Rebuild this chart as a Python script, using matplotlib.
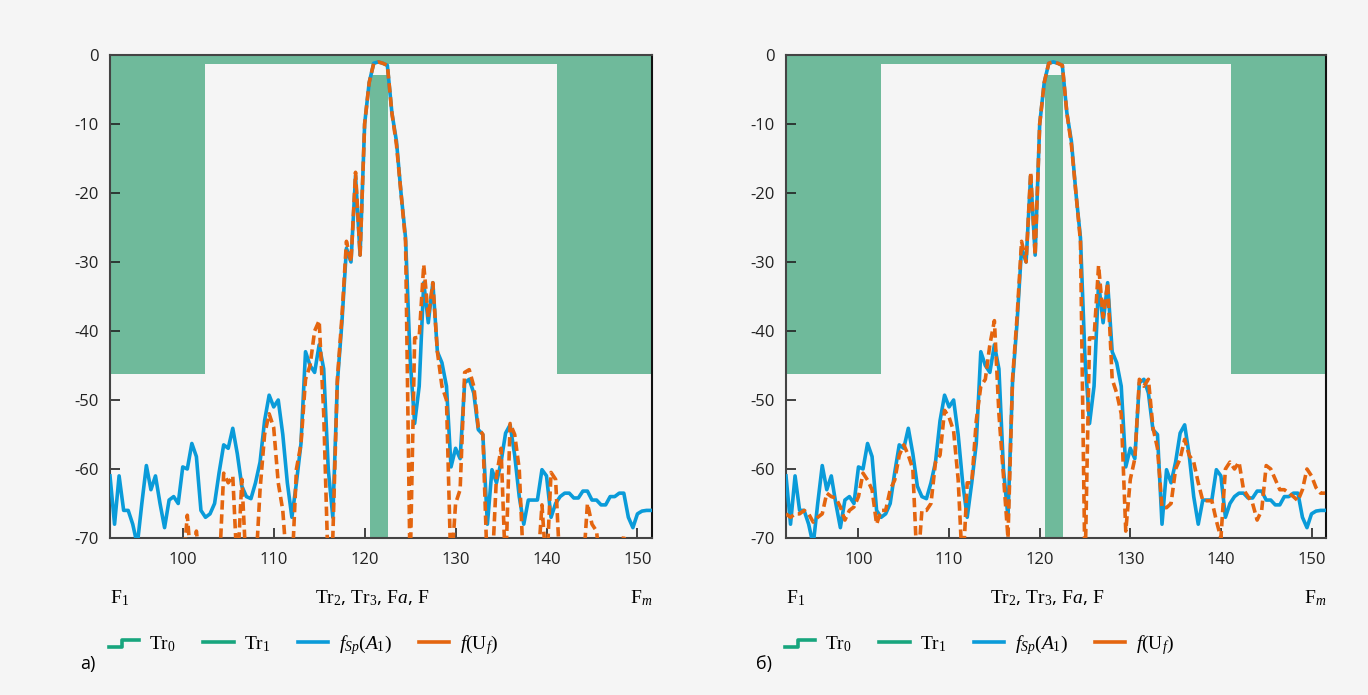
import numpy as np
import matplotlib
matplotlib.use('Agg')
import matplotlib.pyplot as plt
from matplotlib.lines import Line2D
from matplotlib.legend_handler import HandlerBase
from matplotlib import transforms

plt.rcParams['mathtext.fontset'] = 'custom'
plt.rcParams['mathtext.rm'] = 'Liberation Serif'
plt.rcParams['mathtext.it'] = 'Liberation Serif:italic'
plt.rcParams['font.family'] = ['Open Sans', 'DejaVu Sans']

# frequency grid (0.5 step) and curves
freq = np.arange(92.0, 151.6, 0.5)

f_sp = [-61, -68, -61, -66, -66, -68, -71, -65, -59.5, -63,
        -61, -65, -68.5, -64.5, -64, -65, -59.7, -60, -56.3, -58.2,
        -66, -67, -66.5, -65, -60.5, -56.5, -57, -54.1, -57.8, -62.5,
        -64, -64.3, -62, -59, -53, -49.3, -51, -50, -55, -62,
        -67, -62, -56.3, -43, -45, -46, -42, -45.5, -60, -67,
        -47.5, -38.8, -28, -30, -17.5, -29, -10, -4, -1.2, -1.0,
        -1.2, -1.5, -8.4, -12.5, -20, -26.5, -44, -53.4, -48, -33,
        -38.8, -33, -43, -44.6, -48, -59.7, -57, -58.5, -47.5, -47,
        -49, -54.3, -55, -68, -60.1, -62, -59, -54.8, -53.6, -58,
        -64, -68, -64.5, -64.5, -64.5, -60.1, -61, -67, -65, -64,
        -63.5, -63.5, -64.2, -64.2, -63.2, -63.2, -64.5, -64.5, -65.2, -65.2,
        -64, -64, -63.5, -63.5, -67, -68.5, -66.5, -66.1, -66, -66]

f_u_a = [-75, -75, -75, -75, -75, -75, -75, -75, -75, -75,
         -75, -75, -75, -75, -75, -75, -75, -66.7, -75, -69,
         -75, -75, -75, -75, -75, -60.6, -62, -61, -75, -61.5,
         -75, -75, -75, -63, -55, -52, -54, -62, -66, -75,
         -75, -60, -56.4, -47, -45, -40, -38.5, -52, -75, -70,
         -47, -38, -27, -30, -17, -29, -10, -4, -1.2, -1.0,
         -1.2, -1.5, -8.4, -13, -20, -27, -75, -41, -40.9, -30.4,
         -38, -33, -43, -48, -50, -75, -65, -63, -46, -45.6,
         -48, -54, -55, -75, -75, -61, -57, -75, -53.4, -55,
         -60, -75, -75, -75, -75, -65.2, -75, -60.5, -61.5, -75,
         -75, -75, -75, -75, -75, -65, -68, -69, -75, -75,
         -75, -75, -75, -69.5, -75, -75, -75, -75, -75, -75]

f_u_b = [-66.5, -67, -66.5, -66.5, -66, -66.5, -67.7, -67, -66.5, -63.5,
         -64, -64.2, -65.5, -67.4, -66, -65.5, -64, -60.6, -61.6, -63,
         -68, -66, -66, -63, -61.6, -58, -56.5, -58, -60, -75,
         -66, -66, -65, -59, -58, -51.5, -52.5, -54.5, -61.5, -75,
         -62, -62, -53, -48, -47, -42, -38.5, -52, -61, -70,
         -47, -38, -27, -30, -17, -29, -10, -4, -1.2, -1.0,
         -1.2, -1.5, -8.4, -13, -20, -27, -75, -41, -41, -30.5,
         -38, -33, -47, -49, -52, -69, -61.5, -58.5, -47, -48,
         -47, -54, -57, -65.6, -65.6, -65, -60, -58.5, -55.7, -58,
         -59, -62, -64.6, -64.6, -64.6, -67.5, -70, -60, -59, -60,
         -59, -63, -64, -65, -67.4, -66, -59.5, -60, -61.5, -63,
         -63, -63.5, -64, -64.6, -63, -60, -61, -62.7, -63.5, -63.5]

# Tr0 mask (step) and Tr1 band
tr0_x = [92.0, 102.5, 141.1, 151.6]
tr0_y = [-46.3, -1.3, -46.3, -46.3]
tr1_x = [120.6, 122.6]
tr1_y = -2.9

green = '#17a57d'
fill_green = '#6fba9b'
blue = '#0a9bd9'
orange = '#e4650f'
bg = '#f5f5f5'


class StepHandler(HandlerBase):
    def create_artists(self, legend, orig_handle, xdescent, ydescent,
                       width, height, fontsize, trans):
        x0 = -xdescent
        xs = [x0, x0 + width * 0.45, x0 + width * 0.45, x0 + width]
        ys = [height * 0.15, height * 0.15, height * 0.65, height * 0.65]
        line = Line2D(xs, ys, color=green, lw=2.6)
        line.set_transform(trans)
        return [line]


fig = plt.figure(figsize=(13.68, 6.95), dpi=100, facecolor=bg)
ax_a = fig.add_axes([110 / 1368, 1 - 538 / 695, 542 / 1368, 483 / 695])
ax_b = fig.add_axes([786 / 1368, 1 - 538 / 695, 540 / 1368, 483 / 695])

for ax, orange_vals, tag in [(ax_a, f_u_a, 'а)'), (ax_b, f_u_b, 'б)')]:
    ax.set_facecolor(bg)
    ax.fill_between(tr0_x, tr0_y, 0, step='post', color=fill_green, lw=0, zorder=1)
    ax.fill_between(tr1_x, -80, tr1_y, color=fill_green, lw=0, zorder=1)
    ax.plot(freq, f_sp, color=blue, lw=2.6, zorder=3)
    ax.plot(freq, orange_vals, color=orange, lw=2.6,
            linestyle=(0, (2.6, 1.3)), zorder=4)

    ax.set_xlim(92.0, 151.6)
    ax.set_ylim(-70, 0)
    ax.set_xticks([100, 110, 120, 130, 140, 150])
    ax.set_yticks([0, -10, -20, -30, -40, -50, -60, -70])
    ax.set_yticklabels(['0', '-10', '-20', '-30', '-40', '-50', '-60', '-70'])
    ax.tick_params(direction='in', length=7, width=1.2, labelsize=12, colors='#222')
    ax.tick_params(axis='x', pad=10)
    ax.tick_params(axis='y', pad=8)
    for s in ax.spines.values():
        s.set_color('#444')
        s.set_linewidth(1.5)
    ax.spines['right'].set_color('#111')

    tr = transforms.blended_transform_factory(ax.transData, ax.transAxes)
    ax.text(92.0, -0.125, r'$\mathrm{F}_1$', transform=tr, fontsize=14, ha='left', va='center')
    ax.text(120.8, -0.125, r'$\mathrm{Tr}_2$, $\mathrm{Tr}_3$, $\mathrm{F}a$, $\mathrm{F}$',
            transform=tr, fontsize=14, ha='center', va='center')
    ax.text(151.6, -0.125, r'$\mathrm{F}_m$', transform=tr, fontsize=14, ha='right', va='center')

    step_handle = Line2D([], [], color=green)
    handles = [step_handle,
               Line2D([], [], color=green, lw=2.6),
               Line2D([], [], color=blue, lw=2.6),
               Line2D([], [], color=orange, lw=2.6)]
    labels = [r'$\mathrm{Tr}_0$', r'$\mathrm{Tr}_1$', r'$f_{Sp}(A_1)$', r'$f(\mathrm{U}_f)$']
    ax.legend(handles, labels, handler_map={step_handle: StepHandler()},
              loc='upper left', bbox_to_anchor=(-0.035, -0.16), frameon=False,
              ncol=4, fontsize=14, handlelength=1.55, handletextpad=0.55,
              columnspacing=1.4)

    ax.text(-0.055, -0.26, tag, transform=ax.transAxes, fontsize=13, ha='left', va='center')

fig.savefig('out.png', dpi=100, facecolor=bg)
